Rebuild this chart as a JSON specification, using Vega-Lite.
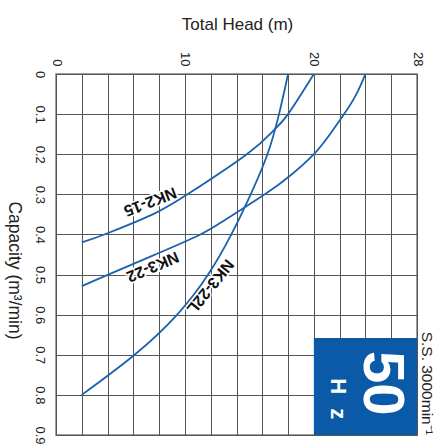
{
  "$schema": "https://vega.github.io/schema/vega-lite/v6.json",
  "autosize": "none",
  "width": 361,
  "height": 361,
  "padding": {"left": 56, "top": 74, "right": 26, "bottom": 13},
  "background": "white",
  "data": {"values": [{}]},
  "config": {
    "font": "Liberation Sans",
    "view": {"stroke": "#808080", "strokeWidth": 1.5}
  },
  "layer": [
    {
      "data": {"values": [
        {"series": "NK2-15", "cap": 0.0, "head": 20.0},
        {"series": "NK2-15", "cap": 0.1, "head": 18.0},
        {"series": "NK2-15", "cap": 0.14, "head": 16.9},
        {"series": "NK2-15", "cap": 0.2, "head": 14.8},
        {"series": "NK2-15", "cap": 0.3, "head": 10.2},
        {"series": "NK2-15", "cap": 0.35, "head": 7.5},
        {"series": "NK2-15", "cap": 0.397, "head": 4.0},
        {"series": "NK2-15", "cap": 0.42, "head": 2.0},
        {"series": "NK3-22", "cap": 0.0, "head": 24.0},
        {"series": "NK3-22", "cap": 0.05, "head": 23.3},
        {"series": "NK3-22", "cap": 0.1, "head": 22.35},
        {"series": "NK3-22", "cap": 0.15, "head": 21.25},
        {"series": "NK3-22", "cap": 0.2, "head": 20.0},
        {"series": "NK3-22", "cap": 0.25, "head": 18.3},
        {"series": "NK3-22", "cap": 0.3, "head": 16.2},
        {"series": "NK3-22", "cap": 0.364, "head": 13.1},
        {"series": "NK3-22", "cap": 0.4, "head": 11.2},
        {"series": "NK3-22", "cap": 0.45, "head": 7.7},
        {"series": "NK3-22", "cap": 0.5, "head": 4.05},
        {"series": "NK3-22", "cap": 0.529, "head": 2.0},
        {"series": "NK3-22L", "cap": 0.0, "head": 18.0},
        {"series": "NK3-22L", "cap": 0.1, "head": 17.3},
        {"series": "NK3-22L", "cap": 0.2, "head": 16.4},
        {"series": "NK3-22L", "cap": 0.3, "head": 15.1},
        {"series": "NK3-22L", "cap": 0.4, "head": 13.6},
        {"series": "NK3-22L", "cap": 0.5, "head": 11.8},
        {"series": "NK3-22L", "cap": 0.6, "head": 9.4},
        {"series": "NK3-22L", "cap": 0.7, "head": 6.1},
        {"series": "NK3-22L", "cap": 0.8, "head": 2.0}
      ]},
      "mark": {"type": "line", "color": "#1b62ae", "strokeWidth": 1.8, "interpolate": "natural"},
      "encoding": {
        "x": {
          "field": "head", "type": "quantitative",
          "scale": {"domain": [0, 28], "nice": false, "zero": false},
          "axis": {
            "orient": "top",
            "values": [0, 2, 4, 6, 8, 10, 12, 14, 16, 18, 20, 22, 24, 26, 28],
            "tickCount": 15,
            "labelExpr": "indexof([0,10,20,28], datum.value) >= 0 ? datum.label : ''",
            "labelAngle": 90, "labelAlign": "right", "labelBaseline": "middle",
            "labelPadding": 8, "labelFontSize": 13, "labelColor": "#222",
            "labelFlush": false, "labelOverlap": false,
            "ticks": false, "domain": false,
            "grid": true, "gridColor": "#555", "gridWidth": 1, "gridOpacity": 1,
            "title": "Total Head (m)", "titleFontSize": 17, "titleFontWeight": "normal",
            "titleColor": "#222", "titleX": 181, "titleY": -50,
            "titleAlign": "center", "titleBaseline": "middle"
          }
        },
        "y": {
          "field": "cap", "type": "quantitative",
          "scale": {"domain": [0, 0.9], "nice": false, "reverse": true},
          "axis": {
            "orient": "left",
            "values": [0, 0.1, 0.2, 0.3, 0.4, 0.5, 0.6, 0.7, 0.8, 0.9],
            "tickCount": 10,
            "format": ".1~f",
            "labelAngle": 90, "labelAlign": "center", "labelBaseline": "top",
            "labelPadding": 11, "labelFontSize": 13, "labelColor": "#222",
            "labelFlush": false, "labelOverlap": false,
            "ticks": false, "domain": false,
            "grid": true, "gridColor": "#555", "gridWidth": 1, "gridOpacity": 1,
            "title": "Capacity (m³/min)", "titleFontSize": 17.5, "titleFontWeight": "normal",
            "titleColor": "#222", "titleAngle": 90, "titleX": -43, "titleY": 196,
            "titleAlign": "center", "titleBaseline": "middle"
          }
        },
        "detail": {"field": "series"}
      }
    },
    {
      "mark": {"type": "rect", "color": "#0a5aa8"},
      "encoding": {
        "x": {"datum": 20}, "x2": {"datum": 28},
        "y": {"datum": 0.658}, "y2": {"datum": 0.9}
      }
    },
    {
      "mark": {"type": "text", "text": "50", "angle": 90, "fontSize": 58, "fontWeight": "bold", "color": "white", "align": "center", "baseline": "middle"},
      "encoding": {"x": {"datum": 25.2}, "y": {"datum": 0.771}}
    },
    {
      "mark": {"type": "text", "text": "H", "angle": 90, "fontSize": 22, "fontWeight": "bold", "color": "white", "align": "center", "baseline": "middle"},
      "encoding": {"x": {"datum": 21.86}, "y": {"datum": 0.778}}
    },
    {
      "mark": {"type": "text", "text": "z", "angle": 90, "fontSize": 22, "fontWeight": "bold", "color": "white", "align": "center", "baseline": "middle"},
      "encoding": {"x": {"datum": 21.86}, "y": {"datum": 0.847}}
    },
    {
      "mark": {"type": "text", "text": "S.S. 3000min⁻¹", "angle": 90, "fontSize": 15.5, "color": "#222", "align": "center", "baseline": "middle"},
      "encoding": {"x": {"datum": 28.8}, "y": {"datum": 0.771}}
    },
    {
      "mark": {"type": "text", "text": "NK2-15", "angle": 159, "fontSize": 16, "fontWeight": "bold", "stroke": "white", "strokeWidth": 3, "color": "white", "align": "center", "baseline": "middle"},
      "encoding": {"x": {"datum": 7.3}, "y": {"datum": 0.318}}
    },
    {
      "mark": {"type": "text", "text": "NK2-15", "angle": 159, "fontSize": 16, "fontWeight": "bold", "color": "#111", "align": "center", "baseline": "middle"},
      "encoding": {"x": {"datum": 7.3}, "y": {"datum": 0.318}}
    },
    {
      "mark": {"type": "text", "text": "NK3-22", "angle": 157, "fontSize": 16, "fontWeight": "bold", "stroke": "white", "strokeWidth": 3, "color": "white", "align": "center", "baseline": "middle"},
      "encoding": {"x": {"datum": 7.5}, "y": {"datum": 0.48}}
    },
    {
      "mark": {"type": "text", "text": "NK3-22", "angle": 157, "fontSize": 16, "fontWeight": "bold", "color": "#111", "align": "center", "baseline": "middle"},
      "encoding": {"x": {"datum": 7.5}, "y": {"datum": 0.48}}
    },
    {
      "mark": {"type": "text", "text": "NK3-22L", "angle": 129, "fontSize": 16, "fontWeight": "bold", "stroke": "white", "strokeWidth": 3, "color": "white", "align": "center", "baseline": "middle"},
      "encoding": {"x": {"datum": 11.95}, "y": {"datum": 0.53}}
    },
    {
      "mark": {"type": "text", "text": "NK3-22L", "angle": 129, "fontSize": 16, "fontWeight": "bold", "color": "#111", "align": "center", "baseline": "middle"},
      "encoding": {"x": {"datum": 11.95}, "y": {"datum": 0.53}}
    }
  ]
}
